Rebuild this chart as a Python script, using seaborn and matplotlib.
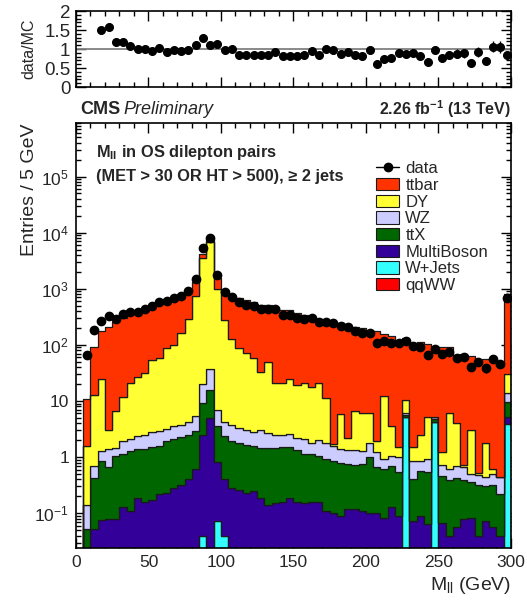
import numpy as np
import pandas as pd
import matplotlib
matplotlib.use("Agg")
import matplotlib.pyplot as plt
import matplotlib.ticker as tkr
from matplotlib.patches import Patch
from matplotlib.lines import Line2D
import seaborn as sns

# 5 GeV bins from 0 to 300 (last bin holds the overflow)
edges = np.arange(0, 305, 5)
centers = edges[:-1] + 2.5

data = [0, 66, 185, 265, 330, 295, 357, 380, 390, 440,
        490, 578, 615, 675, 750, 895, 1470, 5350, 8040, 1780,
        862, 702, 571, 519, 485, 434, 434, 434, 339, 339,
        300, 289, 302, 251, 254, 241, 213, 211, 176, 160,
        160, 106, 115, 110, 110, 117, 96, 90, 67, 83,
        70, 75, 58, 61, 40, 50, 38, 57, 45, 675]

ttbar = [0, 9.1, 77, 153, 206, 245, 288, 331, 367, 408,
         461, 502, 573, 589, 629, 628, 606, 680, 610, 585,
         609, 583, 583, 552, 513, 490, 474, 456, 398, 394,
         351, 327, 300, 274, 246, 246, 236, 230, 205, 192,
         159, 172, 146, 139, 123, 123, 105, 108, 98, 81,
         91, 84, 62, 68, 60, 54, 54, 53, 42, 764]

dy = [0, 1.46, 12.3, 23.7, 1.73, 5.15, 10.1, 18.9, 24.6, 29.5,
      52, 56, 85, 96, 156, 291, 725, 3480, 6660, 983,
      276, 122, 86, 70, 55, 30, 46, 18.5, 18.5, 22.4,
      16.8, 18.9, 16.2, 19, 9.4, 0.1, 4.4, 0.86, 5.3, 4.9,
      4.2, 0.67, 11.4, 2.5, 0.5, 4.2, 0.65, 1.6, 4.3, 0,
      0.49, 5.4, 3.3, 0.07, 2.6, 0.04, 1.36, 0.12, 0, 16]

wz = [0, 0.09, 0.26, 0.43, 0.7, 0.41, 0.8, 0.79, 0.99, 1.1,
      1.3, 1.3, 1.3, 1.5, 1.5, 1.7, 2.5, 10.7, 21.5, 3.3,
      1.9, 1.77, 1.5, 1.43, 1.2, 1.65, 1.25, 1.05, 1.0, 1.06,
      0.86, 0.97, 0.63, 0.95, 0.82, 0.75, 0.58, 0.6, 0.63, 0.54,
      0.8, 0.56, 0.29, 0.36, 0.46, 0.5, 0.45, 0.31, 0.37, 0.5,
      0.28, 0.22, 0.28, 0.27, 0.13, 0.17, 0.14, 0.18, 0.23, 4.4]

ttx = [0, 0.053, 0.38, 0.77, 0.59, 0.96, 1.0, 1.17, 1.18, 1.24,
       1.33, 1.38, 1.67, 1.79, 1.98, 2.1, 2.3, 6.8, 10.6, 2.8,
       2.0, 1.65, 1.54, 1.44, 1.35, 1.26, 1.31, 1.3, 1.34, 1.35,
       1.18, 0.98, 0.97, 0.89, 0.83, 0.75, 0.7, 0.62, 0.59, 0.63,
       0.9, 0.57, 0.54, 0.57, 0.45, 0.35, 0.33, 0.47, 0.48, 0.45,
       0.39, 0.36, 0.36, 0.32, 0.28, 0.28, 0.23, 0.26, 0.18, 4.4]

multiboson = [0, 0, 0.053, 0.077, 0.08, 0.08, 0.13, 0.11, 0.19, 0.16,
              0.17, 0.22, 0.23, 0.28, 0.32, 0.40, 0.62, 2.46, 4.9, 0.73,
              0.36, 0.28, 0.26, 0.23, 0.25, 0.19, 0.14, 0.15, 0.16, 0.19,
              0.16, 0.15, 0.16, 0.16, 0.11, 0.10, 0.09, 0.12, 0.12, 0.11,
              0.10, 0.10, 0.083, 0.13, 0.09, 0.09, 0.072, 0.09, 0.064, 0.07,
              0.068, 0.039, 0.056, 0.078, 0.083, 0.039, 0.072, 0.056, 0.039, 1.3]

wjets = [0] * 60
for i, v in [(17, 0.04), (19, 0.072), (20, 0.04), (45, 5.2), (49, 4.2), (59, 3.9)]:
    wjets[i] = v

qqww = [0] * 60

processes = ["ttbar", "DY", "WZ", "ttX", "MultiBoson", "W+Jets", "qqWW"]
yields = {"ttbar": ttbar, "DY": dy, "WZ": wz, "ttX": ttx,
          "MultiBoson": multiboson, "W+Jets": wjets, "qqWW": qqww}
colors = {"ttbar": "#ff3300", "DY": "#ffff33", "WZ": "#ccccff", "ttX": "#006600",
          "MultiBoson": "#330099", "W+Jets": "#33ffff", "qqWW": "#ff0000"}

rows = []
for p in processes:
    for c, w in zip(centers, yields[p]):
        rows.append((p, c, w))
mc = pd.DataFrame(rows, columns=["process", "mll", "events"])

sns.set_theme(style="ticks")
plt.rcParams['font.family'] = ['Liberation Sans', 'DejaVu Sans']
plt.rcParams['mathtext.fontset'] = 'custom'
plt.rcParams['mathtext.rm'] = 'Liberation Sans'
plt.rcParams['mathtext.it'] = 'Liberation Sans:italic'
plt.rcParams['mathtext.bf'] = 'Liberation Sans:bold'
plt.rcParams['mathtext.default'] = 'regular'

fig = plt.figure(figsize=(5.27, 6.06), dpi=100)
ax_r = fig.add_axes([0.1442, 0.8564, 0.8254, 0.1254])
ax = fig.add_axes([0.1442, 0.0957, 0.8254, 0.7013])

# stacked MC
sns.histplot(data=mc, x="mll", weights="events", hue="process", hue_order=processes,
             palette=colors, multiple="stack", binwidth=5, binrange=(0, 300),
             element="step", alpha=1, edgecolor="#1a1a1a", linewidth=0.9,
             legend=False, ax=ax)
ax.set_yscale("log")

d = np.array(data, dtype=float)
tot = np.sum([np.array(yields[p], dtype=float) for p in processes], axis=0)
m = d > 0
ax.errorbar(centers[m], d[m], yerr=np.sqrt(d[m]), fmt="o", color="black",
            ms=6, lw=1, capsize=0, zorder=5)

ax.set_xlim(0, 300)
ax.set_ylim(0.024, 9e5)
ax.xaxis.set_major_locator(tkr.MultipleLocator(50))
ax.xaxis.set_minor_locator(tkr.MultipleLocator(10))
ax.yaxis.set_major_locator(tkr.LogLocator(base=10, numticks=20))
ax.yaxis.set_minor_locator(tkr.LogLocator(base=10, subs=np.arange(2, 10), numticks=20))
ax.yaxis.set_minor_formatter(tkr.NullFormatter())


def logfmt(v, pos):
    e = int(round(np.log10(v)))
    if e == 0:
        return "1"
    if e == 1:
        return "10"
    return "$10^{%d}$" % e


ax.yaxis.set_major_formatter(tkr.FuncFormatter(logfmt))
ax.tick_params(which="both", direction="in", top=True, right=True, labelsize=12.5,
               width=1, color="black")
ax.tick_params(which="major", length=7, pad=5)
ax.tick_params(which="minor", length=3.5)
for s in ax.spines.values():
    s.set_linewidth(1.2)
    s.set_color("black")

ax.set_xlabel("M$_{ll}$ (GeV)", fontsize=14, loc="right")
ax.xaxis.set_label_coords(1.0, -0.063)
ax.set_ylabel("Entries / 5 GeV", fontsize=14, loc="top")
ax.yaxis.set_label_coords(-0.088, 1.0)

ax.text(0.046, 0.93, "M$_{\\mathbf{ll}}$ in OS dilepton pairs", transform=ax.transAxes,
        fontsize=11.8, fontweight="bold", va="center")
ax.text(0.046, 0.873, "(MET > 30 OR HT > 500), \u2265 2 jets", transform=ax.transAxes,
        fontsize=11.8, fontweight="bold", va="center")

handles = [Line2D([], [], marker="o", color="black", ms=6, lw=1)]
handles += [Patch(facecolor=colors[p], edgecolor="#1a1a1a", lw=0.8) for p in processes]
ax.legend(handles, ["data"] + processes, loc="upper left", bbox_to_anchor=(0.69, 0.91),
          frameon=False, fontsize=12, handlelength=1.4, handleheight=0.75,
          labelspacing=0.1, handletextpad=0.35, borderaxespad=0, borderpad=0)

fig.text(80 / 527, 1 - 109 / 606, "CMS", fontsize=13, fontweight="bold", va="center")
fig.text(123 / 527, 1 - 109 / 606, "Preliminary", fontsize=13, style="italic", va="center")
fig.text(511 / 527, 1 - 109 / 606, "2.26 fb$^{\\mathbf{-1}}$ (13 TeV)", fontsize=11.5,
         fontweight="bold", ha="right", va="center")

# ratio panel
ratio = np.where(tot > 0, d / np.where(tot > 0, tot, 1), 0)
show = m & (tot > 0) & (ratio <= 2)
ax_r.axhline(1, color="gray", lw=1.3, zorder=1)
ax_r.errorbar(centers[show], ratio[show], yerr=ratio[show] / np.sqrt(d[show]),
              fmt="o", color="black", ms=5.5, lw=1, capsize=0, zorder=5)
ax_r.set_xlim(0, 300)
ax_r.set_ylim(0, 2)
ax_r.xaxis.set_major_locator(tkr.MultipleLocator(50))
ax_r.xaxis.set_minor_locator(tkr.MultipleLocator(10))
ax_r.yaxis.set_major_locator(tkr.MultipleLocator(0.5))
ax_r.yaxis.set_minor_locator(tkr.MultipleLocator(0.1))
ax_r.yaxis.set_major_formatter(tkr.FuncFormatter(lambda v, p: "%g" % v))
ax_r.tick_params(which="both", direction="in", top=True, right=True, labelbottom=False,
                 labelsize=13.5, width=1, color="black")
ax_r.tick_params(which="major", length=7, pad=4)
ax_r.tick_params(which="minor", length=3.5)
for s in ax_r.spines.values():
    s.set_linewidth(1.2)
    s.set_color("black")
ax_r.set_xlabel("")
ax_r.set_ylabel("data/MC", fontsize=11.5)
ax_r.yaxis.set_label_coords(-0.09, 0.5)

fig.savefig("out.png", dpi=100)
